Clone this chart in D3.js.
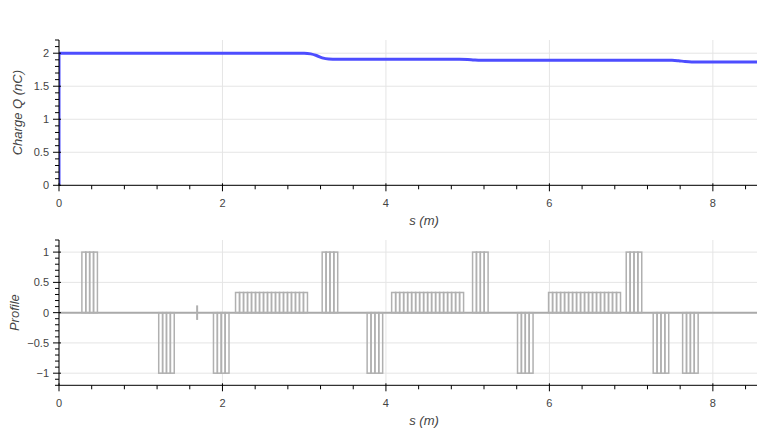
<!DOCTYPE html>
<html><head><meta charset="utf-8">
<script src="https://cdn.jsdelivr.net/npm/d3@7"></script>
<style>
body{margin:0;background:#fff}
text{font-family:"Liberation Sans",Arial,Helvetica,sans-serif}
</style>
</head><body>
<svg id="c" width="757" height="430"></svg>
<script>
// ---- data ----
const chargeS = [0, 0, 3.0, 3.08, 3.15, 3.22, 3.3, 3.4, 4.9, 5.0, 5.08, 5.16, 7.5, 7.58, 7.66, 7.74, 8.6];
const chargeQ = [0, 2.0, 2.0, 1.99, 1.965, 1.93, 1.912, 1.909, 1.908, 1.905, 1.898, 1.894, 1.893, 1.886, 1.874, 1.868, 1.868];

const elemStart  = [0.28, 1.22, 1.89, 2.16, 3.22, 3.77, 4.07, 5.06, 5.61, 5.99, 6.94, 7.27, 7.63];
const elemLength = [0.19, 0.19, 0.19, 0.88, 0.19, 0.19, 0.88, 0.19, 0.19, 0.88, 0.19, 0.19, 0.19];
const elemValue  = [1, -1, -1, 0.333, 1, -1, 0.333, 1, -1, 0.333, 1, -1, -1];
const elemSlices = [4, 4, 4, 18, 4, 4, 18, 4, 4, 18, 4, 4, 4];
const markerS = [1.69];
const markerH = [0.12];

const xTicks = [0, 2, 4, 6, 8];
const chargeTicks = [0, 0.5, 1, 1.5, 2];
const profileTicks = [-1, -0.5, 0, 0.5, 1];
const xDomain = [0, 8.54];
const chargeDomain = [0, 2.2];
const profileDomain = [-1.2, 1.2];

// ---- layout ----
const svg = d3.select("#c");
const L = 59, R = 757;
const panels = [
  {top: 40, bottom: 185.3, ydom: chargeDomain, yticks: chargeTicks, title: "Charge Q (nC)", titleX: 18},
  {top: 240, bottom: 385.3, ydom: profileDomain, yticks: profileTicks, title: "Profile", titleX: 15}
];
const x = d3.scaleLinear().domain(xDomain).range([L, R]);
const fmt = d3.format("");
const axisColor = "#000", labelColor = "#444", gridColor = "#e5e5e5";

function drawPanel(p) {
  const y = d3.scaleLinear().domain(p.ydom).range([p.bottom, p.top]);
  const g = svg.append("g");
  g.selectAll(null).data(xTicks).join("line")
    .attr("x1", d => x(d)).attr("x2", d => x(d)).attr("y1", p.top).attr("y2", p.bottom)
    .attr("stroke", gridColor).attr("stroke-width", 1);
  g.selectAll(null).data(p.yticks).join("line")
    .attr("x1", L).attr("x2", R).attr("y1", d => y(d)).attr("y2", d => y(d))
    .attr("stroke", gridColor).attr("stroke-width", 1);
  p.y = y;
  return p;
}

function drawAxes(p) {
  const y = p.y, g = svg.append("g");
  const xMinor = d3.range(0, 22).map(k => +(k * 0.4).toFixed(2))
    .filter(v => v <= xDomain[1] && xTicks.indexOf(v) < 0);
  g.selectAll(null).data(xMinor).join("line")
    .attr("x1", d => x(d)).attr("x2", d => x(d)).attr("y1", p.bottom).attr("y2", p.bottom + 4)
    .attr("stroke", axisColor);
  g.selectAll(null).data(xTicks).join("line")
    .attr("x1", d => x(d)).attr("x2", d => x(d)).attr("y1", p.bottom - 2).attr("y2", p.bottom + 6)
    .attr("stroke", axisColor);
  g.append("line").attr("x1", L).attr("x2", R).attr("y1", p.bottom).attr("y2", p.bottom)
    .attr("stroke", axisColor).attr("stroke-width", 1);
  g.selectAll(null).data(xTicks).join("text")
    .attr("x", d => x(d)).attr("y", p.bottom + 22).attr("text-anchor", "middle")
    .attr("font-size", 11).attr("fill", labelColor).text(fmt);
  g.append("text").attr("x", 424).attr("y", p.bottom + 40).attr("text-anchor", "middle")
    .attr("font-size", 13).attr("font-style", "italic").attr("fill", labelColor).text("s (m)");
  const yMinor = d3.range(Math.round(p.ydom[0] * 10), Math.round(p.ydom[1] * 10) + 1).map(v => v / 10)
    .filter(v => p.yticks.indexOf(v) < 0);
  g.selectAll(null).data(yMinor).join("line")
    .attr("x1", L - 4).attr("x2", L).attr("y1", d => y(d)).attr("y2", d => y(d))
    .attr("stroke", axisColor);
  g.selectAll(null).data(p.yticks).join("line")
    .attr("x1", L - 6).attr("x2", L + 2).attr("y1", d => y(d)).attr("y2", d => y(d))
    .attr("stroke", axisColor);
  g.append("line").attr("x1", L).attr("x2", L).attr("y1", p.top).attr("y2", p.bottom)
    .attr("stroke", axisColor).attr("stroke-width", 1);
  g.selectAll(null).data(p.yticks).join("text")
    .attr("x", L - 10).attr("y", d => y(d) + 4).attr("text-anchor", "end")
    .attr("font-size", 11).attr("fill", labelColor).text(d => fmt(d));
  const cy = (p.top + p.bottom) / 2;
  g.append("text").attr("transform", `translate(${p.titleX + 4},${cy}) rotate(-90)`)
    .attr("text-anchor", "middle").attr("font-size", 13).attr("font-style", "italic")
    .attr("fill", labelColor).text(p.title);
}

const topP = drawPanel(panels[0]);
const botP = drawPanel(panels[1]);

svg.append("clipPath").attr("id", "clipT").append("rect")
  .attr("x", L).attr("y", topP.top - 2).attr("width", R - L).attr("height", topP.bottom - topP.top + 4);

// charge line
const chargeData = chargeS.map((s, i) => ({s, q: chargeQ[i]}));
svg.append("path").datum(chargeData)
  .attr("clip-path", "url(#clipT)")
  .attr("fill", "none").attr("stroke", "rgb(77,77,255)").attr("stroke-width", 3)
  .attr("stroke-linejoin", "round")
  .attr("d", d3.line().x(d => x(d.s)).y(d => topP.y(d.q)).curve(d3.curveMonotoneX));

// profile
const slices = [];
elemStart.forEach((s0, i) => {
  const w = elemLength[i] / elemSlices[i];
  d3.range(elemSlices[i]).forEach(k => slices.push({a: s0 + k * w, b: s0 + (k + 1) * w, v: elemValue[i]}));
});
const by = botP.y;
svg.append("line").attr("x1", L).attr("x2", R).attr("y1", by(0)).attr("y2", by(0))
  .attr("stroke", "#aaa").attr("stroke-width", 2);
svg.append("g").selectAll("rect").data(slices).join("rect")
  .attr("x", d => x(d.a)).attr("width", d => x(d.b) - x(d.a))
  .attr("y", d => by(Math.max(0, d.v))).attr("height", d => Math.abs(by(d.v) - by(0)))
  .attr("fill", "none").attr("stroke", "#b0b0b0").attr("stroke-width", 1.5);
svg.append("g").selectAll("line").data(markerS).join("line")
  .attr("x1", d => x(d)).attr("x2", d => x(d))
  .attr("y1", (d, i) => by(markerH[i])).attr("y2", (d, i) => by(-markerH[i]))
  .attr("stroke", "#b0b0b0").attr("stroke-width", 2);

drawAxes(topP);
drawAxes(botP);
</script>
</body></html>
